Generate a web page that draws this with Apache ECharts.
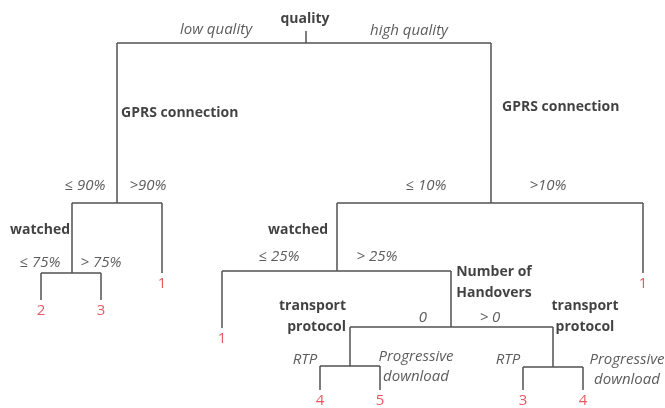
<!DOCTYPE html>
<html>
<head>
<meta charset="utf-8">
<script src="https://cdn.jsdelivr.net/npm/echarts@6/dist/echarts.min.js"></script>
<style>
  html, body { margin: 0; padding: 0; background: #fff; }
  #tree { width: 665px; height: 408px; }
</style>
</head>
<body>
<div id="tree"></div>
<script>
// tree nodes (x = column, y = depth where the node's bar / leaf ends)
const nodeNames  = ['quality', 'GPRS connection', 'watched', '', '', '', 'GPRS connection', 'watched', '', 'Number of\nHandovers', 'transport\nprotocol', '', '', 'transport\nprotocol', '', '', ''];
const nodeParent = [-1, 0, 1, 2, 2, 1, 0, 6, 7, 7, 9, 10, 10, 9, 13, 13, 6];
const nodeX      = [306, 117, 72, 41, 101, 162, 491, 337, 222, 451, 350, 320, 380, 553, 523, 583, 643];
const nodeY      = [43, 203, 273, 300, 300, 273, 203, 271, 328, 327, 366, 390, 390, 367, 390, 390, 273];
const edgeLabels = ['', 'low quality', '\u2264 90%', '\u2264 75%', '> 75%', '>90%', 'high quality', '\u2264 10%', '\u2264 25%', '> 25%', '0', 'RTP', 'Progressive\ndownload', '> 0', 'RTP', 'Progressive\ndownload', '>10%'];
const leafValues = ['', '', '', 2, 3, 1, '', '', 1, '', '', 4, 5, '', 3, 4, 1];
const rootStubTop = 31;

// where each text sits (anchor x, y, align)
const nodeLabelPos = {
  0: [305, 19, 'center'], 1: [121, 113, 'left'], 2: [40, 230, 'center'],
  6: [502, 107, 'left'], 7: [298, 230, 'center'], 9: [494, 283, 'center'],
  10: [346, 317, 'right'], 13: [585, 317, 'center']
};
const edgeLabelPos = {
  1: [216, 30], 2: [85, 186], 3: [40, 263], 4: [101, 263], 5: [148, 186],
  6: [409, 31], 7: [426, 186], 8: [279, 257], 9: [377, 257], 10: [423, 318],
  11: [305, 360], 12: [416, 367], 13: [490, 318], 14: [508, 360], 15: [627, 370], 16: [548, 186]
};

const segments = [];
nodeX.forEach((x, i) => {
  const p = nodeParent[i];
  const top = p < 0 ? rootStubTop : nodeY[p];
  segments.push({ coords: [[x, top], [x, nodeY[i]]] });
  const kids = nodeX.filter((_, k) => nodeParent[k] === i);
  if (kids.length) {
    segments.push({ coords: [[Math.min(...kids), nodeY[i]], [Math.max(...kids), nodeY[i]]] });
  }
});

const nodeTexts = [], edgeTexts = [], leafTexts = [];
nodeNames.forEach((n, i) => {
  if (n) {
    const p = nodeLabelPos[i];
    nodeTexts.push({ value: [p[0], p[1]], name: n, label: { align: p[2] } });
  }
  if (edgeLabels[i]) {
    const p = edgeLabelPos[i];
    edgeTexts.push({ value: [p[0], p[1]], name: edgeLabels[i] });
  }
  if (leafValues[i] !== '') {
    leafTexts.push({ value: [nodeX[i], nodeY[i] + 11], name: String(leafValues[i]) });
  }
});

const textSeries = (data, style) => ({
  type: 'scatter',
  data: data,
  symbolSize: 0,
  silent: true,
  label: Object.assign({ show: true, position: 'inside', formatter: '{b}' }, style)
});

const chart = echarts.init(document.getElementById('tree'));
chart.setOption({
  animation: false,
  grid: { left: 0, right: 0, top: 0, bottom: 0 },
  xAxis: { type: 'value', min: 0, max: 665, show: false },
  yAxis: { type: 'value', min: 0, max: 408, inverse: true, show: false },
  series: [
    {
      type: 'lines',
      coordinateSystem: 'cartesian2d',
      polyline: true,
      silent: true,
      lineStyle: { color: '#505050', width: 1.5, opacity: 1 },
      data: segments
    },
    textSeries(nodeTexts, { fontFamily: 'Open Sans', fontWeight: 'bold', fontSize: 14, color: '#111', lineHeight: 21 }),
    textSeries(edgeTexts, { fontFamily: 'Open Sans', fontStyle: 'italic', fontSize: 15, color: '#333', lineHeight: 20 }),
    textSeries(leafTexts, { fontFamily: 'Open Sans', fontSize: 15, color: '#e0303c' })
  ]
});
</script>
</body>
</html>
